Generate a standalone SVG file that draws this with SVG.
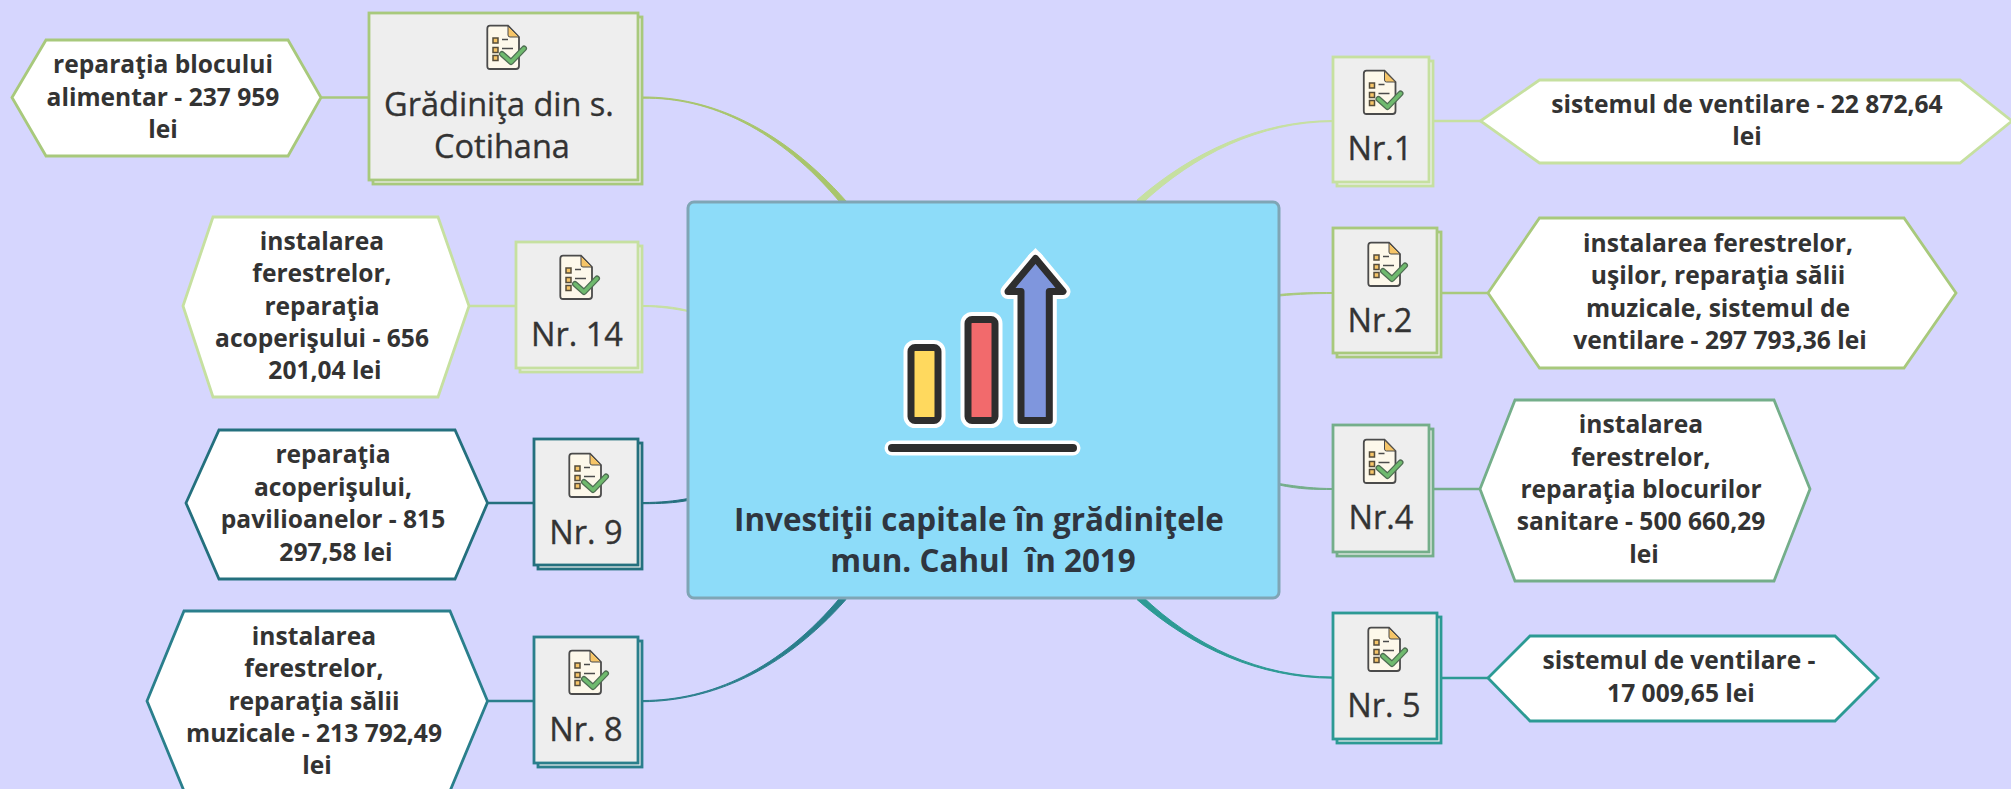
<svg xmlns="http://www.w3.org/2000/svg" width="2011" height="789" viewBox="0 0 2011 789">
<style>
text{font-family:"Open Sans","Noto Sans",sans-serif;fill:#333;text-anchor:middle}
.t{font-size:32.500px;stroke:#333;stroke-width:.35px}
.h{font-size:24.600px;font-weight:700}
.m{font-size:31.400px;font-weight:700;fill:#2f3640}
.b{fill:#eee;stroke-width:2.800px}
.x{fill:#fff;stroke-width:2.800px}
.l{fill:none;stroke-width:2.600px}
.c{stroke-width:1px}
.g1{stroke:#a8c97c}.g2{stroke:#c6e0a0}.g3{stroke:#74ae8a}.t1{stroke:#2c9a94}.t2{stroke:#2a7f8c}.t3{stroke:#24707e}
</style>
<defs>
<g id="ic">
<path d="M3 .7H21L32 12V41Q32 44 29 44H3Q.3 44 .3 41V3.700Q.3 .7 3 .7Z" fill="#fdf8ea" stroke="#4b4b4b" stroke-width="1.800"/>
<path d="M21 1L32 12H23Q21 12 21 10Z" fill="#f6c568" stroke="#4b4b4b" stroke-width="1"/>
<g fill="#f6c568" stroke="#554c3a" stroke-width="1.500">
<rect x="6" y="13" width="5" height="5"/><rect x="6" y="22.500" width="5" height="5"/><rect x="6" y="30.500" width="5" height="5"/>
</g>
<path d="M15 14.500H21M15 23.500H26" stroke="#4b4b4b" stroke-width="1.500" fill="none"/>
<path d="M15 29L24 37L37 23.500" fill="none" stroke="#4e6d52" stroke-width="6" stroke-linejoin="round" stroke-linecap="round"/>
<path d="M15 29L24 37L37 23.500" fill="none" stroke="#6fba6e" stroke-width="3.500" stroke-linejoin="round" stroke-linecap="round"/>
</g>
</defs>
<rect width="2011" height="789" fill="#d6d6fe"/>
<g id="connectors">
<path class="c" fill="#a8c56c" stroke="#a8c56c" d="M643 97C710 96.800 781 127.500 846 201L841.500 204C779 129 710 97.200 643 98.200Z"/>
<path class="c" fill="#c6e0a0" stroke="#c6e0a0" d="M1333 120.600C1260 120.800 1192 152 1137 200L1142 203.500C1194 155 1260 121.500 1333 121.600Z"/>
<path class="c" fill="#a8c97c" stroke="#a8c97c" d="M1279 294.500C1300 292.500 1315 292.500 1333 292.500V293.500C1315 293.500 1300 294 1279 296Z"/>
<path class="c" fill="#74ae8a" stroke="#74ae8a" d="M1279 483.500C1300 487 1315 488.500 1333 488.500V489.500C1315 489.500 1300 489.500 1279 485Z"/>
<path class="c" fill="#2c9a94" stroke="#2c9a94" d="M1333 677C1260 677 1194 646 1142 596L1137 599.500C1192 648 1260 678 1333 678.200Z"/>
<path class="c" fill="#c6e0a0" stroke="#c6e0a0" d="M643 305.500C660 305.500 675 307 688 310.500V311.500C675 309 660 306.500 643 306.500Z"/>
<path class="c" fill="#24707e" stroke="#24707e" d="M643 502.500C660 502.500 675 501 688 498.500V500.500C675 503 660 503.700 643 503.700Z"/>
<path class="c" fill="#2a7f8c" stroke="#2a7f8c" d="M643 700.500C710 700.500 780 670 841.500 596L846 599.500C782 672 710 701 643 701.700Z"/>
<path class="l g1" d="M321 97.500H369"/>
<path class="l g2" d="M469 306H516"/>
<path class="l t3" d="M487 503H534"/>
<path class="l t2" d="M487 701H534"/>
<path class="l g2" d="M1434 121H1481"/>
<path class="l g1" d="M1441 293H1488"/>
<path class="l g3" d="M1434 489H1480"/>
<path class="l t1" d="M1441 678H1488"/>
</g>
<g id="central">
<rect x="688" y="202" width="591" height="396" rx="6" fill="#8ddcf9" stroke="#7fa5b5" stroke-width="3"/>
<g fill="none" stroke-linejoin="round" stroke-linecap="round">
<path d="M1028 256L1035.500 248L1043 256Z" fill="#fff"/>
<g stroke="#fff" stroke-width="15">
<rect x="911" y="347.500" width="27" height="73" rx="4"/>
<rect x="968" y="319.500" width="27" height="101" rx="4"/>
<path d="M1021 420.500V291.500H1008L1035.500 258.500L1063 291.500H1049.300V420.500Z"/>
<path d="M892 448H1073"/>
</g>
<g stroke="#2e2e2e" stroke-width="7">
<rect x="911" y="347.500" width="27" height="73" rx="4" fill="#ffd95e"/>
<rect x="968" y="319.500" width="27" height="101" rx="4" fill="#f26a6c"/>
<path d="M1021 420.500V291.500H1008L1035.500 258.500L1063 291.500H1049.300V420.500Z" fill="#7f96dd"/>
<path d="M892 448H1073" stroke-width="8"/>
</g>
</g>
<text class="m" x="979" y="531">Investiţii capitale în grădiniţele</text>
<text class="m" x="983" y="572" xml:space="preserve">mun. Cahul  în 2019</text>
</g>
<g id="n-gradinita">
<rect class="b g1" x="373" y="17" width="269" height="167"/><rect class="b g1" x="369" y="13" width="269" height="167"/>
<use href="#ic" x="487" y="25"/>
<text class="t" x="499" y="116">Grădiniţa din s.</text><text class="t" x="502" y="158">Cotihana</text>
</g>
<g id="h-gradinita">
<path class="x g1" d="M12 97.500L46 40H288L321 97.500L288 156H46Z"/>
<text class="h" x="163" y="73">reparaţia blocului</text><text class="h" x="163" y="105.500">alimentar - 237 959</text><text class="h" x="163" y="138">lei</text>
</g>
<g id="n-14">
<rect class="b g2" x="520" y="246" width="122" height="126"/><rect class="b g2" x="516" y="242" width="122" height="126"/>
<use href="#ic" x="560" y="255"/>
<text class="t" x="577" y="346">Nr. 14</text>
</g>
<g id="h-14">
<path class="x g2" d="M183 306L213 217H438L469 306L438 397H213Z"/>
<text class="h" x="322" y="250">instalarea</text><text class="h" x="322" y="282">ferestrelor,</text><text class="h" x="322" y="315">reparaţia</text><text class="h" x="322" y="347">acoperişului - 656</text><text class="h" x="325" y="379">201,04 lei</text>
</g>
<g id="n-9">
<rect class="b t3" x="538" y="443" width="104" height="126"/><rect class="b t3" x="534" y="439" width="104" height="126"/>
<use href="#ic" x="569" y="453"/>
<text class="t" x="586" y="544">Nr. 9</text>
</g>
<g id="h-9">
<path class="x t3" d="M186 503L219 430H455L487.500 503L455 579H219Z"/>
<text class="h" x="333" y="463">reparaţia</text><text class="h" x="333" y="496">acoperişului,</text><text class="h" x="333" y="528">pavilioanelor - 815</text><text class="h" x="336" y="561">297,58 lei</text>
</g>
<g id="n-8">
<rect class="b t2" x="538" y="641" width="104" height="126"/><rect class="b t2" x="534" y="637" width="104" height="126"/>
<use href="#ic" x="569" y="650"/>
<text class="t" x="586" y="741">Nr. 8</text>
</g>
<g id="h-8">
<path class="x t2" d="M147 701L184 611H450L487.500 701L450 791H184Z"/>
<text class="h" x="314" y="645">instalarea</text><text class="h" x="314" y="677">ferestrelor,</text><text class="h" x="314" y="710">reparaţia sălii</text><text class="h" x="314" y="742">muzicale - 213 792,49</text><text class="h" x="317" y="774">lei</text>
</g>
<g id="n-1">
<rect class="b g2" x="1337" y="61" width="96" height="125"/><rect class="b g2" x="1333" y="57" width="96" height="125"/>
<use href="#ic" x="1363.500" y="70"/>
<text class="t" x="1380" y="160">Nr.1</text>
</g>
<g id="h-1">
<path class="x g2" d="M1480.500 121L1539.500 80H1960L2012 121L1960 163H1539.500Z"/>
<text class="h" x="1747" y="113">sistemul de ventilare - 22 872,64</text><text class="h" x="1747" y="145">lei</text>
</g>
<g id="n-2">
<rect class="b g1" x="1337" y="232" width="104" height="125"/><rect class="b g1" x="1333" y="228" width="104" height="125"/>
<use href="#ic" x="1368" y="242"/>
<text class="t" x="1380" y="332">Nr.2</text>
</g>
<g id="h-2">
<path class="x g1" d="M1488 293L1539.500 218H1904L1956 293L1904 368H1539.500Z"/>
<text class="h" x="1718" y="252">instalarea ferestrelor,</text><text class="h" x="1718" y="284">uşilor, reparaţia sălii</text><text class="h" x="1718" y="317">muzicale, sistemul de</text><text class="h" x="1720" y="349">ventilare - 297 793,36 lei</text>
</g>
<g id="n-4">
<rect class="b g3" x="1337" y="429" width="96" height="127"/><rect class="b g3" x="1333" y="425" width="96" height="127"/>
<use href="#ic" x="1363.500" y="439"/>
<text class="t" x="1381" y="529">Nr.4</text>
</g>
<g id="h-4">
<path class="x g3" d="M1480 489L1515 400H1774L1810 489L1774 581H1515Z"/>
<text class="h" x="1641" y="433">instalarea</text><text class="h" x="1641" y="466">ferestrelor,</text><text class="h" x="1641" y="498">reparaţia blocurilor</text><text class="h" x="1641" y="530">sanitare - 500 660,29</text><text class="h" x="1644" y="563">lei</text>
</g>
<g id="n-5">
<rect class="b t1" x="1337" y="617" width="104" height="126"/><rect class="b t1" x="1333" y="613" width="104" height="126"/>
<use href="#ic" x="1368" y="627"/>
<text class="t" x="1384" y="717">Nr. 5</text>
</g>
<g id="h-5">
<path class="x t1" d="M1488 678L1530 636H1835L1878 678L1835 721H1530Z"/>
<text class="h" x="1679" y="669">sistemul de ventilare -</text><text class="h" x="1681" y="702">17 009,65 lei</text>
</g>
</svg>
